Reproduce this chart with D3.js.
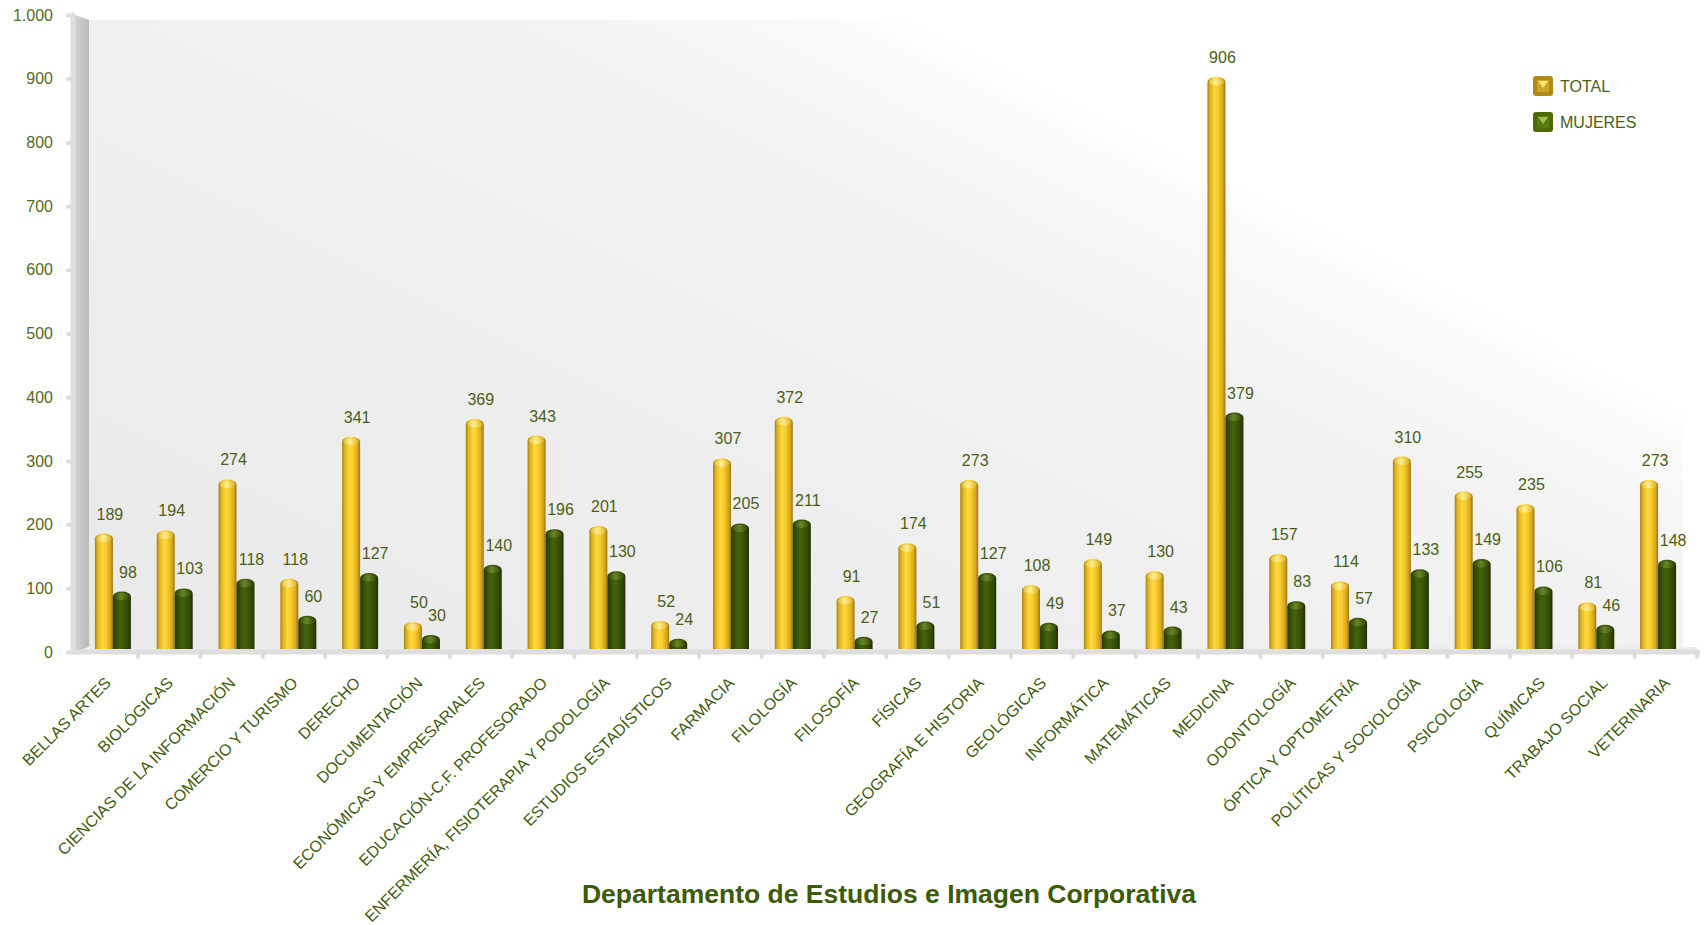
<!DOCTYPE html>
<html>
<head>
<meta charset="utf-8">
<script src="https://cdn.jsdelivr.net/npm/d3@7"></script>
<style>
  body { margin: 0; background: #fff; }
  svg text { font-family: "Liberation Sans", Arial, sans-serif; }
</style>
</head>
<body>
<div id="chart"></div>
<script>
// values
const categories = ["BELLAS ARTES", "BIOLÓGICAS", "CIENCIAS DE LA INFORMACIÓN", "COMERCIO Y TURISMO",
    "DERECHO", "DOCUMENTACIÓN", "ECONÓMICAS Y EMPRESARIALES", "EDUCACIÓN-C.F. PROFESORADO",
    "ENFERMERÍA, FISIOTERAPIA Y PODOLOGÍA", "ESTUDIOS ESTADÍSTICOS", "FARMACIA", "FILOLOGÍA",
    "FILOSOFÍA", "FÍSICAS", "GEOGRAFÍA E HISTORIA", "GEOLÓGICAS", "INFORMÁTICA", "MATEMÁTICAS",
    "MEDICINA", "ODONTOLOGÍA", "ÓPTICA Y OPTOMETRÍA", "POLÍTICAS Y SOCIOLOGÍA", "PSICOLOGÍA",
    "QUÍMICAS", "TRABAJO SOCIAL", "VETERINARIA"];
const total = [189, 194, 274, 118, 341, 50, 369, 343, 201, 52, 307, 372, 91, 174, 273, 108, 149, 130,
    906, 157, 114, 310, 255, 235, 81, 273];
const mujeres = [98, 103, 118, 60, 127, 30, 140, 196, 130, 24, 205, 211, 27, 51, 127, 49, 37, 43,
    379, 83, 57, 133, 149, 106, 46, 148];
const seriesNames = ["TOTAL", "MUJERES"];
const yTicks = [0, 100, 200, 300, 400, 500, 600, 700, 800, 900, 1000];
const title = "Departamento de Estudios e Imagen Corporativa";

const W = 1707, H = 925;
const axisX = 73, wallW = 16, yTop = 15, yBottom = 652;

const svg = d3.select("#chart").append("svg")
    .attr("width", W).attr("height", H);

const defs = svg.append("defs");

// background of plot: grey fading to white along a diagonal
const bg = defs.append("linearGradient").attr("id", "bgGrad")
    .attr("gradientUnits", "userSpaceOnUse")
    .attr("x1", 89).attr("y1", 647).attr("x2", 507).attr("y2", -185);
bg.append("stop").attr("offset", 0).attr("stop-color", "#e9e9e9");
bg.append("stop").attr("offset", 0.8).attr("stop-color", "#f2f2f2");
bg.append("stop").attr("offset", 0.96).attr("stop-color", "#fafafa");
bg.append("stop").attr("offset", 1).attr("stop-color", "#ffffff");

const wallGrad = defs.append("linearGradient").attr("id", "wallGrad");
wallGrad.append("stop").attr("offset", 0).attr("stop-color", "#d2d2d2");
wallGrad.append("stop").attr("offset", 1).attr("stop-color", "#bababa");

function cylGrad(id, stops) {
    const g = defs.append("linearGradient").attr("id", id);
    stops.forEach(s => g.append("stop").attr("offset", s[0]).attr("stop-color", s[1]));
}
cylGrad("gY", [[0, "#a98312"], [0.15, "#dcb325"], [0.4, "#ffd93c"], [0.6, "#f8cc2c"], [0.85, "#d6a81c"], [1, "#9c7608"]]);
cylGrad("gG", [[0, "#263904"], [0.15, "#334c06"], [0.4, "#45620c"], [0.6, "#3d5808"], [0.85, "#2f4605"], [1, "#1f3002"]]);
cylGrad("capY", [[0, "#e8c438"], [0.45, "#fff09a"], [1, "#e0b420"]]);
cylGrad("capG", [[0, "#3a5208"], [0.45, "#6c8a2a"], [1, "#334a06"]]);

// scales
const y = d3.scaleLinear().domain([0, 1000]).range([yBottom, yTop]);
const xTick = d3.scaleBand().domain(categories).range([75.6, 1697]);
const x0 = d3.scaleBand().domain(categories).range([82, 1689]);
const x1 = d3.scaleBand().domain(seriesNames).range([x0.bandwidth() / 2 - 18, x0.bandwidth() / 2 + 18]);

const es = d3.formatLocale({decimal: ",", thousands: ".", grouping: [3], currency: ["", "€"]});
const fmt = es.format(",d");

// plot background
svg.append("rect")
    .attr("x", axisX + wallW).attr("y", yTop + 5)
    .attr("width", 1683 - axisX - wallW).attr("height", yBottom - yTop - 10)
    .attr("fill", "url(#bgGrad)");

// side wall
svg.append("path")
    .attr("d", `M${axisX + 2},${yTop} L${axisX + wallW},${yTop + 5} L${axisX + wallW},${yBottom - 5} L${axisX + 2},${yBottom} Z`)
    .attr("fill", "url(#wallGrad)");

// y axis
const yAxis = d3.axisLeft(y).tickValues(yTicks).tickFormat(fmt).tickSize(5).tickPadding(15);
const yg = svg.append("g").attr("transform", `translate(${axisX},0)`).call(yAxis);
yg.select(".domain").remove();
yg.selectAll(".tick line").attr("stroke", "#dcdcdc").attr("stroke-width", 4).attr("stroke-linecap", "round");
yg.selectAll(".tick text").attr("fill", "#56691c").attr("font-size", 16)
    .attr("font-family", "Liberation Sans, Arial, sans-serif");
svg.append("line")
    .attr("x1", axisX).attr("x2", axisX).attr("y1", yTop).attr("y2", yBottom)
    .attr("stroke", "#dedede").attr("stroke-width", 5).attr("stroke-linecap", "round");

// floor
svg.append("path")
    .attr("d", `M${axisX + 2},${yBottom} L${axisX + wallW},${yBottom - 5} L1697,${yBottom - 5} L1697,${yBottom} Z`)
    .attr("fill", "#ececec");
svg.append("line")
    .attr("x1", axisX).attr("x2", 1698).attr("y1", yBottom).attr("y2", yBottom)
    .attr("stroke", "#dedede").attr("stroke-width", 5).attr("stroke-linecap", "round");

// floor ticks at category boundaries
const bounds = categories.map(c => xTick(c)).concat([xTick.range()[1]]);
svg.append("g").selectAll("line").data(bounds.slice(1)).join("line")
    .attr("x1", d => d).attr("x2", d => d)
    .attr("y1", yBottom).attr("y2", yBottom + 5)
    .attr("stroke", "#dcdcdc").attr("stroke-width", 4).attr("stroke-linecap", "round");

// bars
const rows = categories.map((c, i) => ({cat: c, vals: [
    {s: "TOTAL", v: total[i]}, {s: "MUJERES", v: mujeres[i]}]}));
const bw = 18;
const grp = svg.append("g").selectAll("g").data(rows).join("g")
    .attr("transform", d => `translate(${x0(d.cat)},0)`);

const bar = grp.selectAll("g").data(d => d.vals).join("g");
bar.append("path")
    .attr("d", d => {
        const l = x1(d.s), r = l + bw, t = y(d.v) + 2, b = yBottom - 3;
        return `M${l},${b} L${l},${t + 5} A${bw / 2},5 0 0 1 ${r},${t + 5} L${r},${b} Z`;
    })
    .attr("fill", d => d.s === "TOTAL" ? "url(#gY)" : "url(#gG)");
bar.append("ellipse")
    .attr("cx", d => x1(d.s) + bw / 2)
    .attr("cy", d => y(d.v) + 7)
    .attr("rx", bw / 2 - 1.5).attr("ry", 3.5)
    .attr("fill", d => d.s === "TOTAL" ? "url(#capY)" : "url(#capG)")
    .attr("opacity", 0.9);

// value labels
bar.append("text")
    .attr("x", d => x1(d.s) + bw / 2 + 6)
    .attr("y", d => y(d.v) - 12)
    .attr("text-anchor", "middle")
    .attr("font-size", 16)
    .attr("fill", "#4b5e16")
    .text(d => d.v);

// category labels
svg.append("g").selectAll("text").data(categories).join("text")
    .attr("transform", d => `translate(${xTick(d) + xTick.bandwidth() / 2 + 5},684) rotate(-45)`)
    .attr("text-anchor", "end")
    .attr("font-size", 16)
    .attr("fill", "#3f5a0c")
    .text(d => d);

// legend
const legend = svg.append("g").attr("transform", "translate(1533,76)");
const lg = legend.selectAll("g").data(seriesNames).join("g")
    .attr("transform", (d, i) => `translate(0,${i * 36})`);
lg.append("rect")
    .attr("width", 20).attr("height", 20).attr("rx", 3)
    .attr("fill", d => d === "TOTAL" ? "#b08a14" : "#4c6a06");
lg.append("rect")
    .attr("x", 4).attr("y", 4).attr("width", 12).attr("height", 12)
    .attr("fill", d => d === "TOTAL" ? "#c9a52a" : "#5a7a10");
lg.append("path")
    .attr("d", "M5,5 L15,5 L10,12 Z")
    .attr("fill", d => d === "TOTAL" ? "#ffe66a" : "#9ec04a");
lg.append("text")
    .attr("x", 27).attr("y", 16)
    .attr("font-size", 16)
    .attr("fill", "#4b5e16")
    .text(d => d);

// footer title
svg.append("text")
    .attr("x", 889).attr("y", 903)
    .attr("text-anchor", "middle")
    .attr("font-size", 26.5).attr("font-weight", "bold")
    .attr("fill", "#3d5a05")
    .text(title);
</script>
</body>
</html>
